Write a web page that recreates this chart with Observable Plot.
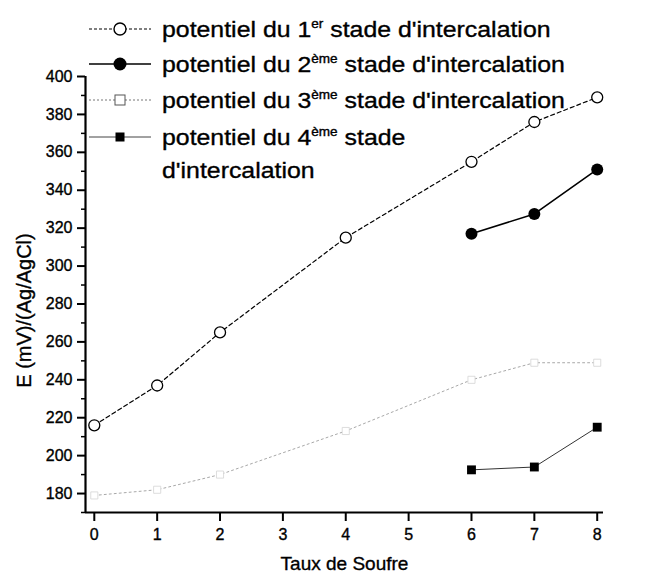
<!DOCTYPE html>
<html>
<head>
<meta charset="utf-8">
<script src="https://cdn.jsdelivr.net/npm/d3@7"></script>
<script src="https://cdn.jsdelivr.net/npm/@observablehq/plot@0.6"></script>
<style>
  html, body { margin: 0; padding: 0; background: #fff; }
  #chart svg { display: block; }
  #chart svg text { stroke: #000; stroke-width: 0.35px; }
</style>
</head>
<body>
<div id="chart"></div>
<script>
// ---- data ----
const taux1 = [0, 1, 2, 4, 6, 7, 8];
const stade1 = [216, 237, 265, 315, 355, 376, 389];
const taux2 = [6, 7, 8];
const stade2 = [317, 327.5, 351];
const taux3 = [0, 1, 2, 4, 6, 7, 8];
const stade3 = [179, 182, 190, 213, 240, 249, 249];
const taux4 = [6, 7, 8];
const stade4 = [192.5, 194, 215];
const xTicks = [0, 1, 2, 3, 4, 5, 6, 7, 8];
const yTicks = [180, 200, 220, 240, 260, 280, 300, 320, 340, 360, 380, 400];
const yMinor = [170, 190, 210, 230, 250, 270, 290, 310, 330, 350, 370, 390];
const xDomain = [-0.14, 8.1];
const yDomain = [170, 400];
const xTitle = "Taux de Soufre";
const yTitle = "E (mV)/(Ag/AgCl)";

const toRows = (xs, ys) => xs.map((x, i) => ({x, y: ys[i]}));
const s1 = toRows(taux1, stade1);
const s2 = toRows(taux2, stade2);
const s3 = toRows(taux3, stade3);
const s4 = toRows(taux4, stade4);

const W = 662, H = 575;
const chart = Plot.plot({
  width: W,
  height: H,
  marginLeft: 85,
  marginRight: 59,
  marginTop: 76,
  marginBottom: 63,
  style: {fontFamily: "'Liberation Sans', Arial, sans-serif", fontSize: "16px", color: "#000", background: "#fff"},
  x: {domain: xDomain},
  y: {domain: yDomain},
  marks: [
    Plot.axisX({ticks: xTicks, tickSize: 9, tickPadding: 7, tickFormat: d => d, strokeWidth: 2, fontSize: 16, label: null}),
    Plot.axisY({ticks: yTicks, tickSize: 8, tickPadding: 5, tickFormat: d => d, strokeWidth: 2, fontSize: 16, label: null}),
    Plot.axisY({ticks: yMinor, tickSize: 4, tickFormat: () => "", strokeWidth: 1.5, label: null}),
    Plot.ruleX([xDomain[0]], {stroke: "#000", strokeWidth: 2.2}),
    Plot.ruleY([yDomain[0]], {stroke: "#000", strokeWidth: 2.2}),
    // stage 3 (light dotted)
    Plot.line(s3, {x: "x", y: "y", stroke: "#a8a8a8", strokeWidth: 1, strokeDasharray: "2,3"}),
    Plot.dot(s3, {x: "x", y: "y", symbol: "square", r: 4, stroke: "#d4d4d4", strokeWidth: 0.8, fill: "#fff"}),
    // stage 4
    Plot.line(s4, {x: "x", y: "y", stroke: "#333", strokeWidth: 1}),
    Plot.dot(s4, {x: "x", y: "y", symbol: "square", r: 5, fill: "#000", stroke: "none"}),
    // stage 1
    Plot.line(s1, {x: "x", y: "y", stroke: "#000", strokeWidth: 1.2, strokeDasharray: "4,3"}),
    Plot.dot(s1, {x: "x", y: "y", r: 5.5, stroke: "#000", strokeWidth: 1.3, fill: "#fff"}),
    // stage 2
    Plot.line(s2, {x: "x", y: "y", stroke: "#000", strokeWidth: 1.6}),
    Plot.dot(s2, {x: "x", y: "y", r: 6, fill: "#000", stroke: "none"}),
    // axis titles
    Plot.text([xTitle], {frameAnchor: "bottom", dy: 51, fontSize: 19, textAnchor: "middle", lineAnchor: "middle", fill: "#000"}),
    Plot.text([yTitle], {frameAnchor: "left", dx: -61, dy: 16, rotate: -90, fontSize: 20, textAnchor: "middle", lineAnchor: "middle", fill: "#000"})
  ]
});
document.getElementById("chart").appendChild(chart);

// ---- legend (drawn on top of the plot svg) ----
const legend = [
  {num: "1", sup: "er", rest: " stade d'intercalation", line: {stroke: "#000", width: 1.1, dash: "3,2"}, marker: "circleOpen"},
  {num: "2", sup: "ème", rest: " stade d'intercalation", line: {stroke: "#000", width: 1.6, dash: null}, marker: "circleFilled"},
  {num: "3", sup: "ème", rest: " stade d'intercalation", line: {stroke: "#777", width: 1, dash: "2,2"}, marker: "squareOpen"},
  {num: "4", sup: "ème", rest: " stade", line: {stroke: "#444", width: 1, dash: null}, marker: "squareFilled"}
];
const legendY = [29, 64, 100, 137];
const svg = d3.select(chart);
const g = svg.append("g")
  .style("font-family", "'Liberation Sans', Arial, sans-serif")
  .attr("fill", "#000")
  .attr("text-anchor", "start");
const addText = (y, build) => {
  const tg = g.append("g").attr("transform", `translate(162,${y}) scale(1.13,1)`);
  const t = tg.append("text").attr("x", 0).attr("y", 0).attr("dy", "0.36em")
    .attr("text-anchor", "start").style("font-size", "22px");
  build(t);
};
legend.forEach((d, i) => {
  const y = legendY[i];
  g.append("line").attr("x1", 89).attr("x2", 151).attr("y1", y).attr("y2", y)
    .attr("stroke", d.line.stroke).attr("stroke-width", d.line.width)
    .attr("stroke-dasharray", d.line.dash);
  if (d.marker === "circleOpen") {
    g.append("circle").attr("cx", 120).attr("cy", y).attr("r", 6).attr("fill", "#fff").attr("stroke", "#000").attr("stroke-width", 1.4);
  } else if (d.marker === "circleFilled") {
    g.append("circle").attr("cx", 120).attr("cy", y).attr("r", 6.5).attr("fill", "#000");
  } else if (d.marker === "squareOpen") {
    g.append("rect").attr("x", 115).attr("y", y - 5).attr("width", 10).attr("height", 10).attr("fill", "#fff").attr("stroke", "#555").attr("stroke-width", 1);
  } else {
    g.append("rect").attr("x", 115.5).attr("y", y - 4.5).attr("width", 9).attr("height", 9).attr("fill", "#000");
  }
  addText(y, t => {
    t.append("tspan").text("potentiel du " + d.num);
    t.append("tspan").style("font-size", "12px").attr("dy", -9).text(d.sup);
    t.append("tspan").attr("dy", 9).text(d.rest);
  });
});
addText(170, t => t.text("d'intercalation"));
</script>
</body>
</html>
